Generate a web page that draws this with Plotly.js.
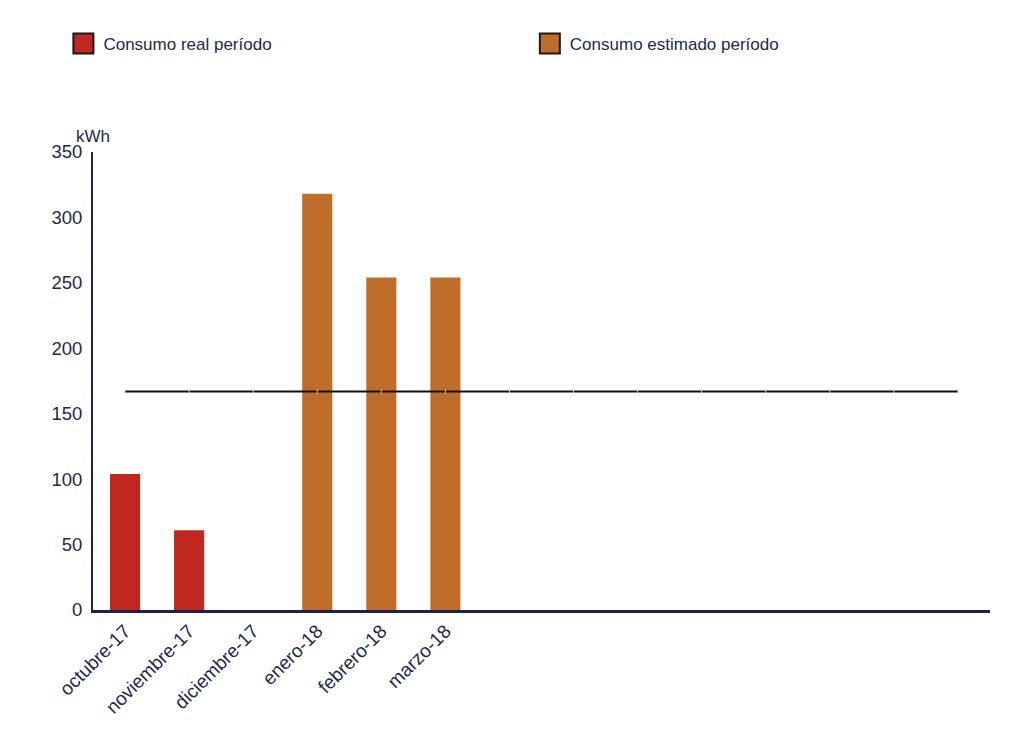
<!DOCTYPE html>
<html>
<head>
<meta charset="utf-8">
<script src="https://cdn.plot.ly/plotly-3.0.1.min.js"></script>
<style>
  body { margin: 0; background: #fff; }
  #graph { width: 1024px; height: 742px; }
</style>
</head>
<body>
<div id="graph"></div>
<script>
// months shown on the axis, the rest of the 14 slots stay empty
var months = ['octubre-17', 'noviembre-17', 'diciembre-17', 'enero-18', 'febrero-18', 'marzo-18'];
var realValues = [104, 61, 0, null, null, null];
var estimatedValues = [null, null, null, 318, 254, 254];
var averageValues = [167, 167, 167, 167, 167, 167, 167, 167, 167, 167, 167, 167, 167, 167];

var monthSlots = months.map(function (m, i) { return i; });
var averageSlots = averageValues.map(function (v, i) { return i; });

var navy = '#1c2152';
var textColor = '#1d2a4a';

var real = {
    x: monthSlots,
    y: realValues,
    name: 'Consumo real período',
    type: 'bar',
    width: 0.47,
    legend: 'legend',
    marker: { color: '#c1281f', line: { color: '#c1281f', width: 0 } },
    hoverinfo: 'y'
};
var estimated = {
    x: monthSlots,
    y: estimatedValues,
    name: 'Consumo estimado período',
    type: 'bar',
    width: 0.47,
    legend: 'legend2',
    marker: { color: '#bf6d2b', line: { color: '#bf6d2b', width: 0 } },
    hoverinfo: 'y'
};
var average = {
    x: averageSlots,
    y: averageValues,
    type: 'scatter',
    mode: 'lines+markers',
    line: { color: '#111111', width: 2 },
    marker: { color: '#cccccc', size: 3, symbol: 'line-ns', line: { color: '#cccccc', width: 1 } },
    showlegend: false,
    hoverinfo: 'y'
};

var legendStyle = function (xPos) {
    return {
        orientation: 'h',
        x: xPos,
        xanchor: 'left',
        y: 1.236,
        yanchor: 'middle',
        font: { size: 17, color: textColor },
        bgcolor: 'rgba(0,0,0,0)',
        itemclick: false
    };
};

var layout = {
    width: 1024,
    height: 742,
    margin: { l: 93, r: 34, t: 152, b: 132 },
    paper_bgcolor: '#ffffff',
    plot_bgcolor: '#ffffff',
    font: { family: 'Liberation Sans, Arial, sans-serif', size: 16, color: textColor },
    barmode: 'overlay',
    showlegend: true,
    legend: legendStyle(-0.033),
    legend2: legendStyle(0.487),
    xaxis: {
        type: 'linear',
        range: [-0.5, 13.5],
        tickvals: monthSlots,
        ticktext: months,
        tickangle: -45,
        showgrid: false,
        zeroline: false,
        showline: true,
        linecolor: navy,
        linewidth: 2.5,
        ticks: '',
        tickfont: { size: 19, color: textColor },
        fixedrange: true
    },
    yaxis: {
        range: [0, 350],
        tickvals: [0, 50, 100, 150, 200, 250, 300, 350],
        showgrid: false,
        zeroline: false,
        showline: true,
        linecolor: navy,
        linewidth: 2,
        ticks: '',
        ticklabelstandoff: 5,
        tickfont: { size: 18.5, color: textColor },
        fixedrange: true
    },
    annotations: [{
        text: 'kWh',
        xref: 'paper', yref: 'paper',
        x: 0, y: 1.0,
        xanchor: 'center', yanchor: 'bottom',
        yshift: 4,
        showarrow: false,
        font: { size: 17, color: textColor }
    }]
};

Plotly.newPlot('graph', [real, estimated, average], layout, { displayModeBar: false, staticPlot: true });

// bigger legend swatches with a dark border, like the original
var swatches = document.querySelectorAll('.legendpoints path');
swatches.forEach(function (p) {
    p.setAttribute('d', 'M10,10H-10V-10H10Z');
    p.style.stroke = '#1a1a1a';
    p.style.strokeWidth = '2px';
});
</script>
</body>
</html>
